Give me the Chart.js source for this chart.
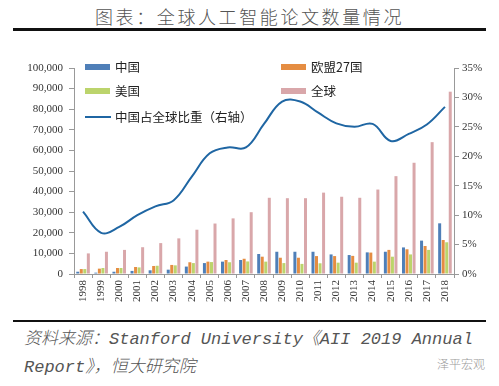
<!DOCTYPE html>
<html>
<head>
<meta charset="utf-8">
<script src="https://cdn.jsdelivr.net/npm/chart.js@4"></script>
<style>
body { margin:0; width:499px; height:386px; background:#fff; position:relative; overflow:hidden; }
#title { position:absolute; top:3px; left:0; width:499px; text-align:center; font:300 18px "Noto Sans CJK SC"; letter-spacing:2.6px; color:#555; }
.rule { position:absolute; left:13px; width:473px; background:#111; }
#box { position:absolute; left:0; top:55px; width:499px; height:262px; }
#src { position:absolute; left:24px; top:326px; font:italic 300 17px "Liberation Mono", "Noto Sans CJK SC"; line-height:28px; color:#555; }
#wm { position:absolute; left:437px; top:355px; font:300 12px "Noto Sans CJK SC"; color:#999; }
</style>
</head>
<body>
<div id="title">图表：全球人工智能论文数量情况</div>
<div class="rule" style="top:28px;height:3px"></div>
<div id="box"><canvas id="chart"></canvas></div>
<div class="rule" style="top:320px;height:2px"></div>
<div id="src">资料来源：Stanford University《AII 2019 Annual<br>Report》，恒大研究院</div>
<div id="wm">泽平宏观</div>
<script>
// values
const years = ['1998','1999','2000','2001','2002','2003','2004','2005','2006','2007','2008',
               '2009','2010','2011','2012','2013','2014','2015','2016','2017','2018'];
const china = [1100, 650, 1100, 1500, 1800, 2100, 3600, 5300, 6000, 6800, 9700,
               10800, 10800, 10800, 9500, 9200, 10500, 10800, 12900, 16200, 24600];
const eu = [2400, 2600, 2900, 3400, 3900, 4400, 5700, 6000, 6800, 7400, 8400,
            7900, 7900, 8700, 8700, 8800, 10400, 11700, 12000, 13600, 16500];
const usa = [2400, 2900, 2900, 3200, 4000, 4200, 5300, 5800, 5700, 6100, 6000,
             5300, 4900, 5200, 5500, 5500, 6000, 8400, 9500, 11700, 15400];
const world = [10000, 10800, 11700, 13000, 15000, 17300, 21500, 24500, 27000, 30000, 37000,
               36800, 36800, 39500, 37500, 37000, 41000, 47500, 54000, 64000, 88500];
const chinaShare = [10.6, 7, 8, 10, 11.5, 12.5, 16.5, 20.5, 21.5, 21.5, 25.5,
                    29.3, 29.3, 27.4, 25.6, 25, 25.5, 22.6, 23.8, 25.4, 28.4];

const legendNames = ['中国', '欧盟27国', '美国', '全球', '中国占全球比重（右轴）'];

// legend drawn by hand, two columns inside the plot
const legendPlugin = {
    id: 'cornerLegend',
    afterDraw(chart) {
        const ctx = chart.ctx;
        const spots = [[85, 12], [281, 12], [85, 36], [281, 36], [85, 62]];
        ctx.save();
        ctx.font = '12.5px "Noto Sans CJK SC"';
        ctx.textBaseline = 'middle';
        chart.data.datasets.forEach((ds, i) => {
            const [x, y] = spots[i];
            if (ds.type === 'line') {
                ctx.strokeStyle = ds.borderColor;
                ctx.lineWidth = 2;
                ctx.beginPath();
                ctx.moveTo(x, y);
                ctx.lineTo(x + 26, y);
                ctx.stroke();
            } else {
                ctx.fillStyle = ds.backgroundColor;
                ctx.fillRect(x, y - 3, 25, 6);
            }
            ctx.fillStyle = '#222';
            ctx.fillText(ds.label, x + 30, y);
        });
        ctx.restore();
    }
};

const tickFont = { family: 'Liberation Serif', size: 11 };

const ctx = document.getElementById('chart').getContext('2d');
const myChart = new Chart(ctx, {
    data: {
        labels: years,
        datasets: [
            { type: 'bar', label: legendNames[0], data: china, backgroundColor: '#4f7fb8', yAxisID: 'y', order: 1 },
            { type: 'bar', label: legendNames[1], data: eu, backgroundColor: '#e58d42', yAxisID: 'y', order: 1 },
            { type: 'bar', label: legendNames[2], data: usa, backgroundColor: '#bcd46c', yAxisID: 'y', order: 1 },
            { type: 'bar', label: legendNames[3], data: world, backgroundColor: '#d9a7aa', yAxisID: 'y', order: 1 },
            { type: 'line', label: legendNames[4], data: chinaShare, borderColor: '#1f66a3', borderWidth: 2,
              pointRadius: 0, tension: 0.4, yAxisID: 'y1', order: 0 }
        ]
    },
    options: {
        responsive: true,
        maintainAspectRatio: false,
        animation: false,
        datasets: { bar: { categoryPercentage: 0.78, barPercentage: 0.85 } },
        layout: { padding: { top: 13, left: 0, right: 0, bottom: 0 } },
        plugins: { legend: { display: false }, tooltip: { enabled: false } },
        scales: {
            x: {
                grid: { drawOnChartArea: false, tickLength: 4, color: '#999' },
                border: { color: '#999' },
                ticks: { minRotation: 90, maxRotation: 90, autoSkip: false, font: tickFont, color: '#333', padding: 2 },
                afterFit: scale => { scale.height = 43; }
            },
            y: {
                position: 'left',
                min: 0, max: 100000,
                grid: { drawOnChartArea: false, tickLength: 5, color: '#999' },
                border: { color: '#999' },
                ticks: { stepSize: 10000, font: tickFont, color: '#333', padding: 6,
                         callback: v => v.toLocaleString('en-US') },
                afterFit: scale => { scale.width = 74; }
            },
            y1: {
                position: 'right',
                min: 0, max: 35,
                grid: { drawOnChartArea: false, tickLength: 5, color: '#999' },
                border: { color: '#999' },
                ticks: { stepSize: 5, font: tickFont, color: '#333', padding: 3,
                         callback: v => v + '%' },
                afterFit: scale => { scale.width = 45; }
            }
        }
    },
    plugins: [legendPlugin]
});
</script>
</body>
</html>
